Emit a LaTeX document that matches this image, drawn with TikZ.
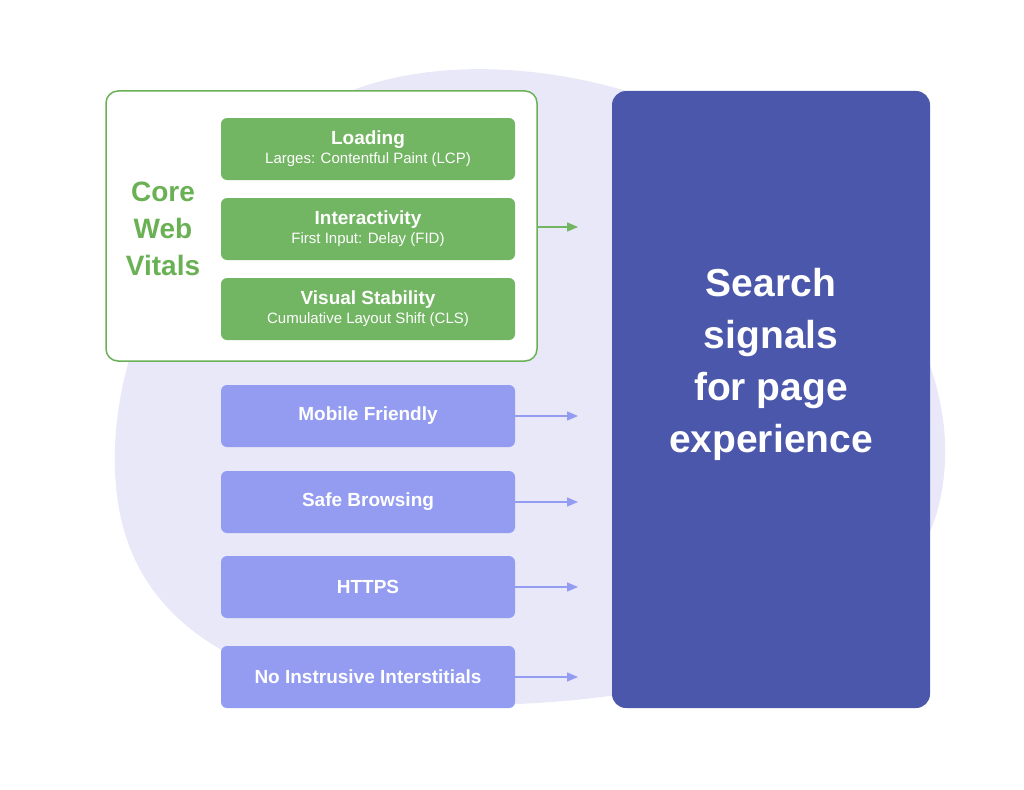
\documentclass[tikz,border=0pt]{standalone}
\usepackage{fontspec}
\setmainfont{Liberation Sans}
\usetikzlibrary{arrows.meta}
\definecolor{blob}{HTML}{E8E8F8}
\definecolor{grn}{HTML}{72B562}
\definecolor{grnt}{HTML}{6AB156}
\definecolor{lav}{HTML}{939CF0}
\definecolor{navy}{HTML}{4B57AB}
\begin{document}
\begin{tikzpicture}[x=1pt,y=-1pt,
  gbox/.style={fill=grn,rounded corners=6pt,minimum width=294pt,minimum height=62pt,text=white,align=center,inner sep=0pt},
  pbox/.style={fill=lav,rounded corners=6pt,minimum width=294pt,minimum height=62pt,text=white,align=center,inner sep=0pt,font=\bfseries\fontsize{19}{22}\selectfont},
  garr/.style={draw=grn,line width=1.3pt,-{Triangle[length=11pt,width=9pt]}},
  parr/.style={draw=lav,line width=1.3pt,-{Triangle[length=11pt,width=9pt]}}]
\useasboundingbox (0,0) rectangle (1024,789);
\fill[blob] (115,470) .. controls (110,330) and (200,170) .. (330,100)
  .. controls (420,55) and (560,60) .. (680,110)
  .. controls (840,180) and (950,330) .. (945,460)
  .. controls (940,600) and (820,660) .. (650,690)
  .. controls (500,715) and (350,710) .. (240,660)
  .. controls (160,620) and (118,560) .. (115,470) -- cycle;
\draw[grnt,line width=1.5pt,fill=white,rounded corners=12pt] (106,91) rectangle (537,361);
\node[text=grnt,font=\bfseries\fontsize{28}{37}\selectfont,align=center] (cwv) at (163,229) {Core\\Web\\Vitals};
\newcommand{\gtxt}[2]{{\bfseries\fontsize{19}{22}\selectfont #1}\\[3pt]{\fontsize{15}{18}\selectfont #2}}
\node[gbox] (g1) at (368,149) {\gtxt{Loading}{Larges: Contentful Paint (LCP)}};
\node[gbox] (g2) at (368,229) {\gtxt{Interactivity}{First Input: Delay (FID)}};
\node[gbox] (g3) at (368,309) {\gtxt{Visual Stability}{Cumulative Layout Shift (CLS)}};
\node[pbox] (p1) at (368,416) {Mobile Friendly};
\node[pbox] (p2) at (368,502) {Safe Browsing};
\node[pbox] (p3) at (368,587) {HTTPS};
\node[pbox] (p4) at (368,677) {No Instrusive Interstitials};
\node[fill=navy,rounded corners=14pt,minimum width=318pt,minimum height=617pt,inner sep=0pt] (big) at (771,399.5) {};
\node[text=white,align=center,font=\bfseries\fontsize{39}{52}\selectfont] (title) at (771,364) {Search\\signals\\for page\\experience};
\coordinate (a0) at (537,227); \coordinate (b0) at (578,227);
\draw[garr] (a0) -- (b0);
\foreach \i/\y in {1/416,2/502,3/587,4/677}{
  \coordinate (e\i) at (578,\y);
  \draw[parr] (p\i.east |- e\i) -- (e\i);}
\end{tikzpicture}
\end{document}
